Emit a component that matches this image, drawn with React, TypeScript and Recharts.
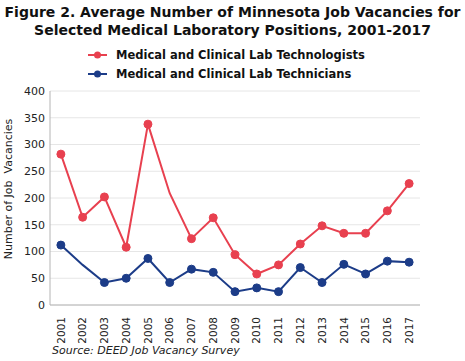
import React from "react";
import { LineChart, Line, XAxis, YAxis, CartesianGrid } from "recharts";

const years = ["2001","2002","2003","2004","2005","2006","2007","2008","2009","2010","2011","2012","2013","2014","2015","2016","2017"];
const technologists = [282, 164, 202, 108, 338, 209, 124, 163, 94, 58, 75, 114, 148, 134, 134, 176, 227];
const technicians = [112, 75, 42, 50, 87, 42, 67, 61, 25, 32, 25, 70, 42, 76, 58, 82, 80];
const technologistsNoMarker = [5];
const techniciansNoMarker = [1];
const yTicks = [0, 50, 100, 150, 200, 250, 300, 350, 400];

const seriesNames = ["Medical and Clinical Lab Technologists", "Medical and Clinical Lab Technicians"];
const RED = "#e8404f";
const BLUE = "#1c3c88";

const data = years.map((y, i) => ({ year: y, tg: technologists[i], tc: technicians[i] }));

const FONT = "'DejaVu Sans', Verdana, sans-serif";

const makeDot = (color: string, skip: number[]) => (props: any) => {
  const { cx, cy, index } = props;
  if (skip.includes(index)) return <g key={`d${index}`} />;
  return <circle key={`d${index}`} cx={cx} cy={cy} r={4} fill={color} stroke={color} strokeWidth={1} />;
};

const XTick = (props: any) => {
  const { x, y, payload } = props;
  return (
    <g transform={`translate(${x},${y + 4})`}>
      <text transform="rotate(-90)" textAnchor="end" dy="0.35em" fontSize={10.5} fontFamily={FONT} fill="#222">
        {payload.value}
      </text>
    </g>
  );
};

const LegendBlock = () => (
  <div style={{ position: "absolute", left: 0, top: 46, fontFamily: FONT, fontWeight: "bold", fontSize: 11.5, color: "#111" }}>
    {[RED, BLUE].map((c, i) => (
      <div key={i} style={{ position: "absolute", left: 88, top: i * 19, height: 18, display: "flex", alignItems: "center", whiteSpace: "nowrap" }}>
        <svg width={20} height={10} style={{ marginRight: 8 }}>
          <line x1={0} y1={5} x2={19} y2={5} stroke={c} strokeWidth={2} />
          <circle cx={9.5} cy={5} r={3.5} fill={c} />
        </svg>
        <span>{seriesNames[i]}</span>
      </div>
    ))}
  </div>
);

export default function App() {
  return (
    <div style={{ position: "absolute", left: 0, top: 0, width: 465, height: 361, background: "#fff" }}>
      <div style={{ position: "absolute", left: 0, top: 3, width: 465, textAlign: "center", fontFamily: FONT, fontWeight: "bold", fontSize: 14, lineHeight: "18px", color: "#111" }}>
        Figure 2. Average Number of Minnesota Job Vacancies for
        <br />
        Selected Medical Laboratory Positions, 2001-2017
      </div>
      <LegendBlock />
      <div style={{ position: "absolute", left: 0, top: 0 }}>
        <LineChart width={465} height={361} data={data} margin={{ top: 91, right: 45, bottom: 26, left: 0 }}>
          <CartesianGrid vertical={false} stroke="#e6e6e6" />
          <XAxis dataKey="year" scale="band" interval={0} tickLine={false} axisLine={{ stroke: "#b4b4b4" }} height={30} tick={<XTick />} />
          <XAxis xAxisId="top" orientation="top" dataKey="year" scale="band" height={0} tick={false} tickLine={false} axisLine={{ stroke: "#b4b4b4" }} />
          <YAxis
            domain={[0, 400]}
            ticks={yTicks}
            width={50}
            tickLine={false}
            tickSize={3}
            tickMargin={2}
            axisLine={{ stroke: "#b4b4b4" }}
            tick={{ fontSize: 11, fontFamily: FONT, fill: "#222" }}
            label={{
              content: () => (
                <text x={8} y={189} transform="rotate(-90, 8, 189)" textAnchor="middle" dominantBaseline="central" fontSize={11} fontFamily={FONT} fill="#222" style={{ whiteSpace: "pre" }}>
                  {"Number of Job  Vacancies"}
                </text>
              ),
            }}
          />
          <YAxis yAxisId="right" orientation="right" width={0} domain={[0, 400]} tick={false} tickLine={false} axisLine={{ stroke: "#b4b4b4" }} />
          <Line type="linear" dataKey="tg" name={seriesNames[0]} stroke={RED} strokeWidth={2} dot={makeDot(RED, technologistsNoMarker)} activeDot={false} isAnimationActive={false} />
          <Line type="linear" dataKey="tc" name={seriesNames[1]} stroke={BLUE} strokeWidth={2} dot={makeDot(BLUE, techniciansNoMarker)} activeDot={false} isAnimationActive={false} />
        </LineChart>
      </div>
      <div style={{ position: "absolute", left: 52, top: 344, fontFamily: FONT, fontStyle: "italic", fontSize: 11, color: "#222", whiteSpace: "nowrap" }}>
        Source: DEED Job Vacancy Survey
      </div>
    </div>
  );
}
